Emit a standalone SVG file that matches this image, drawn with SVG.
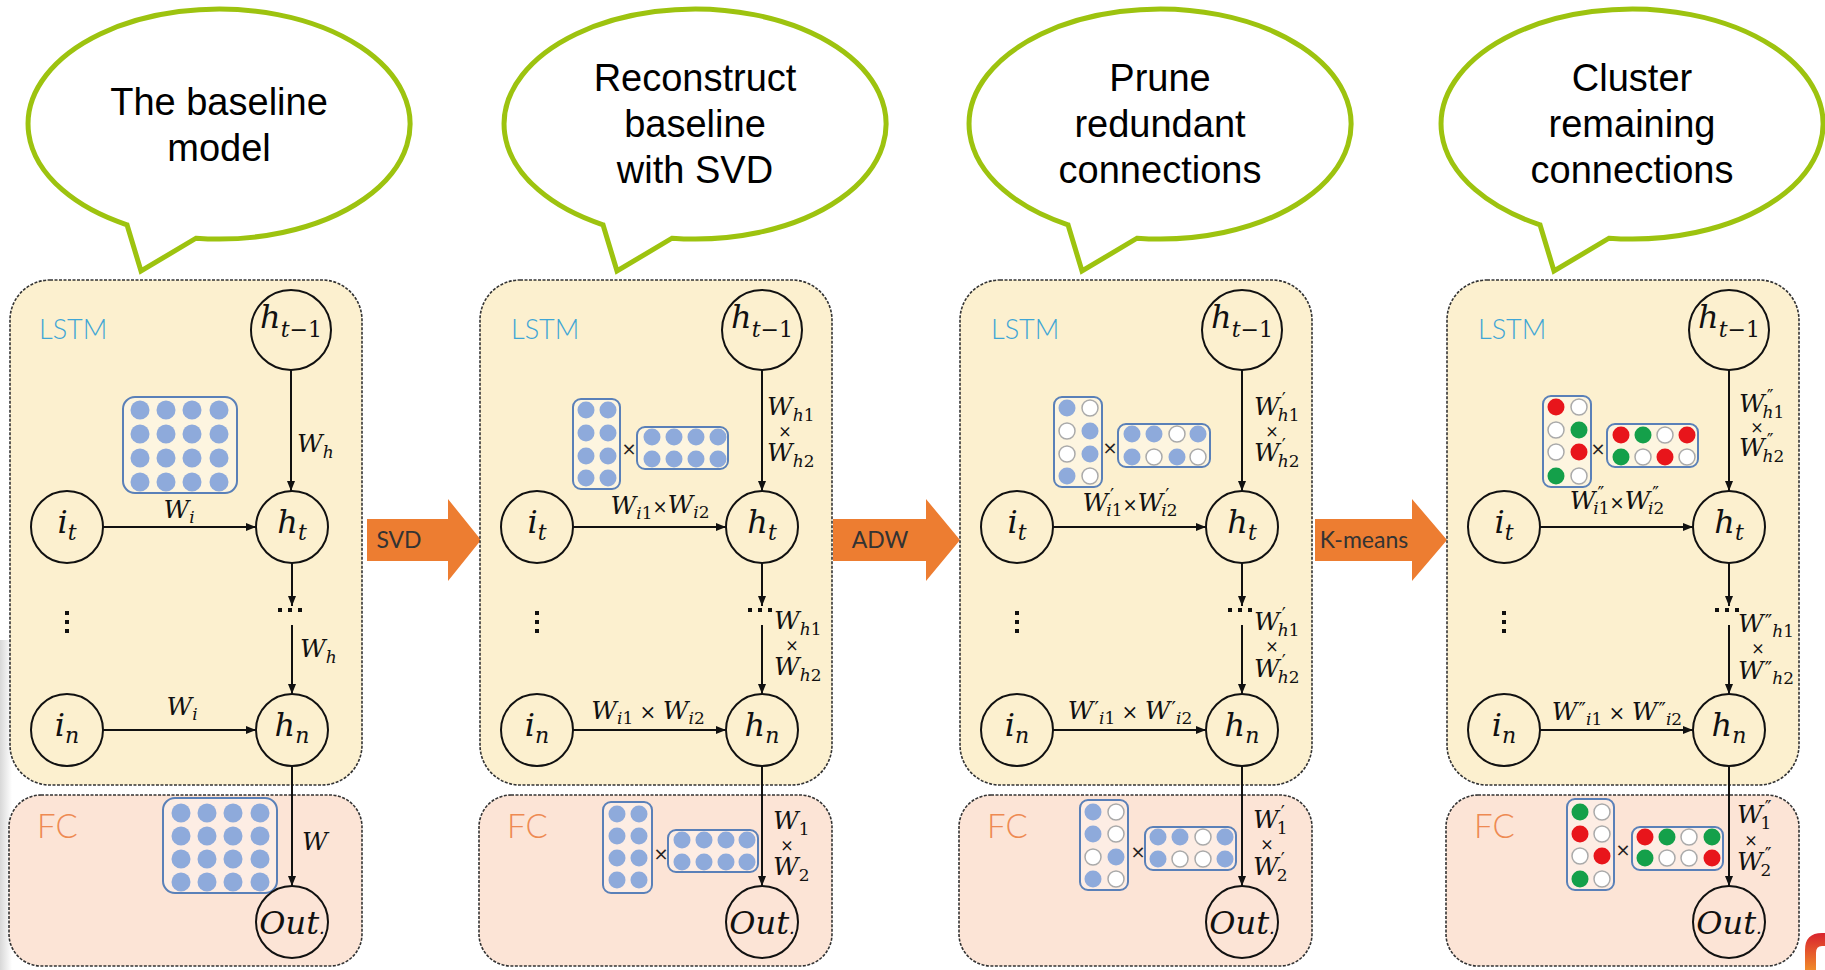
<svg xmlns="http://www.w3.org/2000/svg" width="1825" height="970" viewBox="0 0 1825 970">
<style>
  .bub{fill:#fff;stroke:#9dc30f;stroke-width:5;stroke-linejoin:miter}
  .btxt{font-family:"Liberation Sans",Arial,sans-serif;font-size:38px;text-anchor:middle;fill:#000}
  .lstm{fill:#fcf0cf;stroke:#333;stroke-width:1.6;stroke-dasharray:3 1.5}
  .fcb{fill:#fce4d6;stroke:#333;stroke-width:1.6;stroke-dasharray:3 1.5}
  .tag{font-family:Lato,"Liberation Sans",sans-serif;font-weight:300}
  .lt{fill:#3fa6d6;font-size:27px}
  .ft{fill:#ee8a52;font-size:33px}
  .node{fill:none;stroke:#111;stroke-width:2}
  .edge{fill:none;stroke:#111;stroke-width:2;marker-end:url(#ah)}
  .m{font-family:"DejaVu Serif",serif;font-style:italic;fill:#111;font-size:25px}
  .nt{font-family:"DejaVu Serif",serif;font-style:italic;fill:#111;font-size:32px;text-anchor:middle}
  .x{font-family:"DejaVu Sans",sans-serif;font-style:normal;font-size:18px;fill:#222;text-anchor:middle}
  .mat{fill:#fff;fill-opacity:.35;stroke:#5a80b8;stroke-width:2}
  .b{fill:#8eaadb}
  .r{fill:#e8151b}
  .g{fill:#14a04a}
  .o{fill:#fff;stroke:#aaa;stroke-width:1.5}
  .arr{fill:#ed7d31}
  .at{font-family:Lato,"Liberation Sans",sans-serif;font-size:23px;fill:#333;text-anchor:middle}
  .dot{fill:#111}
</style>
<defs>
  <marker id="ah" markerWidth="10" markerHeight="8" refX="10" refY="4" orient="auto" markerUnits="userSpaceOnUse">
    <path d="M0,0 L10,4 L0,8 z" fill="#111"/>
  </marker>
  <linearGradient id="shade" x1="0" y1="0" x2="1" y2="0">
    <stop offset="0" stop-color="#d8d8d8"/>
    <stop offset="1" stop-color="#d8d8d8" stop-opacity="0"/>
  </linearGradient>
  <linearGradient id="logo" x1="0" y1="0" x2="0" y2="1">
    <stop offset="0" stop-color="#d9232e"/>
    <stop offset="1" stop-color="#f08a2a"/>
  </linearGradient>
</defs>

<!-- soft page shading at the left edge -->
<rect x="0" y="640" width="12" height="330" fill="url(#shade)"/>

<!-- speech bubbles -->
<g id="bubble-1">
  <path class="bub" d="M127,224.8 L141,271 L196,238.2 A191 115 0 1 0 127,224.8 Z"/>
  <text class="btxt"><tspan x="219" y="115">The baseline</tspan><tspan x="219" y="161">model</tspan></text>
</g>
<g id="bubble-2">
  <path class="bub" d="M603,224.8 L617,271 L672,238.2 A191 115 0 1 0 603,224.8 Z"/>
  <text class="btxt"><tspan x="695" y="91">Reconstruct</tspan><tspan x="695" y="137">baseline</tspan><tspan x="695" y="183">with SVD</tspan></text>
</g>
<g id="bubble-3">
  <path class="bub" d="M1068,224.8 L1082,271 L1137,238.2 A191 115 0 1 0 1068,224.8 Z"/>
  <text class="btxt"><tspan x="1160" y="91">Prune</tspan><tspan x="1160" y="137">redundant</tspan><tspan x="1160" y="183">connections</tspan></text>
</g>
<g id="bubble-4">
  <path class="bub" d="M1540,224.8 L1554,271 L1609,238.2 A191 115 0 1 0 1540,224.8 Z"/>
  <text class="btxt"><tspan x="1632" y="91">Cluster</tspan><tspan x="1632" y="137">remaining</tspan><tspan x="1632" y="183">connections</tspan></text>
</g>

<!-- step arrows -->
<g id="step-svd">
  <polygon class="arr" points="367,519 448,519 448,499 481,540 448,581 448,561 367,561"/>
  <text class="at" x="399" y="548">SVD</text>
</g>
<g id="step-adw">
  <polygon class="arr" points="833,519 926,519 926,499 960,540 926,581 926,561 833,561"/>
  <text class="at" x="880" y="548">ADW</text>
</g>
<g id="step-kmeans">
  <polygon class="arr" points="1315,519 1412,519 1412,499 1447,540 1412,581 1412,561 1315,561"/>
  <text class="at" x="1364" y="548">K-means</text>
</g>

<!-- ===== Panel 1: baseline model ===== -->
<g id="panel-1" transform="translate(10,0)">
  <g id="p1-blocks">
    <rect class="lstm" x="0" y="280" width="352" height="505" rx="40"/>
    <rect class="fcb" x="-1" y="795" width="353" height="171" rx="32"/>
    <text class="tag lt" x="29" y="339">LSTM</text>
    <text class="tag ft" x="27" y="838">FC</text>
  </g>
  <g id="p1-wlstm">
    <rect class="mat" x="113" y="397" width="114" height="96" rx="12"/>
    <g class="b">
      <circle cx="130" cy="410" r="9.5"/><circle cx="156" cy="410" r="9.5"/><circle cx="182" cy="410" r="9.5"/><circle cx="209" cy="410" r="9.5"/>
      <circle cx="130" cy="434" r="9.5"/><circle cx="156" cy="434" r="9.5"/><circle cx="182" cy="434" r="9.5"/><circle cx="209" cy="434" r="9.5"/>
      <circle cx="130" cy="458" r="9.5"/><circle cx="156" cy="458" r="9.5"/><circle cx="182" cy="458" r="9.5"/><circle cx="209" cy="458" r="9.5"/>
      <circle cx="130" cy="482" r="9.5"/><circle cx="156" cy="482" r="9.5"/><circle cx="182" cy="482" r="9.5"/><circle cx="209" cy="482" r="9.5"/>
    </g>
  </g>
  <g id="p1-wfc">
    <rect class="mat" x="153" y="798" width="114" height="95" rx="12"/>
    <g class="b">
      <circle cx="171" cy="813" r="9.5"/><circle cx="197" cy="813" r="9.5"/><circle cx="223" cy="813" r="9.5"/><circle cx="250" cy="813" r="9.5"/>
      <circle cx="171" cy="836" r="9.5"/><circle cx="197" cy="836" r="9.5"/><circle cx="223" cy="836" r="9.5"/><circle cx="250" cy="836" r="9.5"/>
      <circle cx="171" cy="859" r="9.5"/><circle cx="197" cy="859" r="9.5"/><circle cx="223" cy="859" r="9.5"/><circle cx="250" cy="859" r="9.5"/>
      <circle cx="171" cy="882" r="9.5"/><circle cx="197" cy="882" r="9.5"/><circle cx="223" cy="882" r="9.5"/><circle cx="250" cy="882" r="9.5"/>
    </g>
  </g>
  <g id="p1-connectors">
    <path class="edge" d="M281,370 V491"/>
    <path class="edge" d="M93,527 H246"/>
    <path class="edge" d="M282,563 V606"/>
    <path class="edge" d="M282,625 V694"/>
    <path class="edge" d="M93,730 H246"/>
    <path class="edge" d="M282,766 V886"/>
    <rect class="dot" x="268" y="608" width="4" height="4"/><rect class="dot" x="278" y="608" width="4" height="4"/><rect class="dot" x="288" y="608" width="4" height="4"/>
    <rect class="dot" x="55" y="611" width="4" height="4"/><rect class="dot" x="55" y="620" width="4" height="4"/><rect class="dot" x="55" y="629" width="4" height="4"/>
    <text class="m" x="287" y="452">W<tspan font-size="17" dy="6">h</tspan></text>
    <text class="m" x="169" y="518" text-anchor="middle">W<tspan font-size="17" dy="5">i</tspan></text>
    <text class="m" x="290" y="657">W<tspan font-size="17" dy="6">h</tspan></text>
    <text class="m" x="172" y="715" text-anchor="middle">W<tspan font-size="17" dy="5">i</tspan></text>
    <text class="m" x="292" y="850">W</text>
  </g>
  <g id="p1-hprev"><circle class="node" cx="281" cy="330" r="40"/><text class="nt" x="281" y="328">h<tspan font-size="22" dy="9">t−<tspan font-style="normal">1</tspan></tspan></text></g>
  <g id="p1-ht"><circle class="node" cx="282" cy="527" r="36"/><text class="nt" x="282" y="533">h<tspan font-size="22" dy="7">t</tspan></text></g>
  <g id="p1-it"><circle class="node" cx="57" cy="527" r="36"/><text class="nt" x="57" y="533">i<tspan font-size="22" dy="7">t</tspan></text></g>
  <g id="p1-hn"><circle class="node" cx="282" cy="730" r="36"/><text class="nt" x="282" y="736">h<tspan font-size="22" dy="7">n</tspan></text></g>
  <g id="p1-in"><circle class="node" cx="57" cy="730" r="36"/><text class="nt" x="57" y="736">i<tspan font-size="22" dy="7">n</tspan></text></g>
  <g id="p1-out"><circle class="node" cx="282" cy="922" r="36"/><text class="nt" x="282" y="934" font-size="28">Out<tspan font-size="18">.</tspan></text></g>
</g>

<!-- ===== Panel 2: SVD factorised ===== -->
<g id="panel-2" transform="translate(480,0)">
  <g id="p2-blocks">
    <rect class="lstm" x="0" y="280" width="352" height="505" rx="40"/>
    <rect class="fcb" x="-1" y="795" width="353" height="171" rx="32"/>
    <text class="tag lt" x="31" y="339">LSTM</text>
    <text class="tag ft" x="27" y="838">FC</text>
  </g>
  <g id="p2-wlstm">
    <rect class="mat" x="93" y="399" width="47" height="90" rx="8"/>
    <g class="b">
      <circle cx="106" cy="410" r="8.5"/><circle cx="128" cy="410" r="8.5"/>
      <circle cx="106" cy="433" r="8.5"/><circle cx="128" cy="433" r="8.5"/>
      <circle cx="106" cy="456" r="8.5"/><circle cx="128" cy="456" r="8.5"/>
      <circle cx="106" cy="478" r="8.5"/><circle cx="128" cy="478" r="8.5"/>
    </g>
    <text class="x" x="149" y="455">×</text>
    <rect class="mat" x="157" y="427" width="91" height="42" rx="8"/>
    <g class="b">
      <circle cx="172" cy="437" r="8.5"/><circle cx="194" cy="437" r="8.5"/><circle cx="216" cy="437" r="8.5"/><circle cx="238" cy="437" r="8.5"/>
      <circle cx="172" cy="459" r="8.5"/><circle cx="194" cy="459" r="8.5"/><circle cx="216" cy="459" r="8.5"/><circle cx="238" cy="459" r="8.5"/>
    </g>
  </g>
  <g id="p2-wfc">
    <rect class="mat" x="123" y="802" width="49" height="91" rx="8"/>
    <g class="b">
      <circle cx="137" cy="814" r="8.5"/><circle cx="159" cy="814" r="8.5"/>
      <circle cx="137" cy="836" r="8.5"/><circle cx="159" cy="836" r="8.5"/>
      <circle cx="137" cy="858" r="8.5"/><circle cx="159" cy="858" r="8.5"/>
      <circle cx="137" cy="880" r="8.5"/><circle cx="159" cy="880" r="8.5"/>
    </g>
    <text class="x" x="181" y="860">×</text>
    <rect class="mat" x="188" y="830" width="90" height="42" rx="8"/>
    <g class="b">
      <circle cx="202" cy="840" r="8.5"/><circle cx="224" cy="840" r="8.5"/><circle cx="246" cy="840" r="8.5"/><circle cx="267" cy="840" r="8.5"/>
      <circle cx="202" cy="862" r="8.5"/><circle cx="224" cy="862" r="8.5"/><circle cx="246" cy="862" r="8.5"/><circle cx="267" cy="862" r="8.5"/>
    </g>
  </g>
  <g id="p2-connectors">
    <path class="edge" d="M282,370 V491"/>
    <path class="edge" d="M93,527 H246"/>
    <path class="edge" d="M282,563 V606"/>
    <path class="edge" d="M282,625 V694"/>
    <path class="edge" d="M93,730 H246"/>
    <path class="edge" d="M282,766 V886"/>
    <rect class="dot" x="268" y="608" width="4" height="4"/><rect class="dot" x="278" y="608" width="4" height="4"/><rect class="dot" x="288" y="608" width="4" height="4"/>
    <rect class="dot" x="55" y="611" width="4" height="4"/><rect class="dot" x="55" y="620" width="4" height="4"/><rect class="dot" x="55" y="629" width="4" height="4"/>
    <text class="m"><tspan x="287" y="415">W</tspan><tspan font-size="17" dy="6">h<tspan font-style="normal">1</tspan></tspan><tspan x="305" y="437" font-size="16" font-style="normal" text-anchor="middle">×</tspan><tspan x="287" y="461">W</tspan><tspan font-size="17" dy="6">h<tspan font-style="normal">2</tspan></tspan></text>
    <text class="m" x="180" y="514" text-anchor="middle">W<tspan font-size="17" dy="5">i<tspan font-style="normal">1</tspan></tspan><tspan font-size="18" font-style="normal" dy="-6">×</tspan>W<tspan font-size="17" dy="5">i<tspan font-style="normal">2</tspan></tspan></text>
    <text class="m"><tspan x="294" y="629">W</tspan><tspan font-size="17" dy="6">h<tspan font-style="normal">1</tspan></tspan><tspan x="312" y="651" font-size="16" font-style="normal" text-anchor="middle">×</tspan><tspan x="294" y="675">W</tspan><tspan font-size="17" dy="6">h<tspan font-style="normal">2</tspan></tspan></text>
    <text class="m" x="168" y="719" text-anchor="middle">W<tspan font-size="17" dy="5">i<tspan font-style="normal">1</tspan></tspan><tspan font-size="20" font-style="normal" dy="-5"> × </tspan>W<tspan font-size="17" dy="5">i<tspan font-style="normal">2</tspan></tspan></text>
    <text class="m"><tspan x="293" y="829">W</tspan><tspan font-size="17" font-style="normal" dy="6">1</tspan><tspan x="307" y="851" font-size="16" font-style="normal" text-anchor="middle">×</tspan><tspan x="293" y="875">W</tspan><tspan font-size="17" font-style="normal" dy="6">2</tspan></text>
  </g>
  <g id="p2-hprev"><circle class="node" cx="282" cy="330" r="40"/><text class="nt" x="282" y="328">h<tspan font-size="22" dy="9">t−<tspan font-style="normal">1</tspan></tspan></text></g>
  <g id="p2-ht"><circle class="node" cx="282" cy="527" r="36"/><text class="nt" x="282" y="533">h<tspan font-size="22" dy="7">t</tspan></text></g>
  <g id="p2-it"><circle class="node" cx="57" cy="527" r="36"/><text class="nt" x="57" y="533">i<tspan font-size="22" dy="7">t</tspan></text></g>
  <g id="p2-hn"><circle class="node" cx="282" cy="730" r="36"/><text class="nt" x="282" y="736">h<tspan font-size="22" dy="7">n</tspan></text></g>
  <g id="p2-in"><circle class="node" cx="57" cy="730" r="36"/><text class="nt" x="57" y="736">i<tspan font-size="22" dy="7">n</tspan></text></g>
  <g id="p2-out"><circle class="node" cx="282" cy="922" r="36"/><text class="nt" x="282" y="934" font-size="28">Out<tspan font-size="18">.</tspan></text></g>
</g>

<!-- ===== Panel 3: pruned ===== -->
<g id="panel-3" transform="translate(960,0)">
  <g id="p3-blocks">
    <rect class="lstm" x="0" y="280" width="352" height="505" rx="40"/>
    <rect class="fcb" x="-1" y="795" width="353" height="171" rx="32"/>
    <text class="tag lt" x="31" y="339">LSTM</text>
    <text class="tag ft" x="27" y="838">FC</text>
  </g>
  <g id="p3-wlstm">
    <rect class="mat" x="94" y="397" width="48" height="90" rx="8"/>
    <circle class="b" cx="107" cy="408" r="8.5"/><circle class="o" cx="130" cy="408" r="8"/>
    <circle class="o" cx="107" cy="431" r="8"/><circle class="b" cx="130" cy="431" r="8.5"/>
    <circle class="o" cx="107" cy="454" r="8"/><circle class="b" cx="130" cy="454" r="8.5"/>
    <circle class="b" cx="107" cy="476" r="8.5"/><circle class="o" cx="130" cy="476" r="8"/>
    <text class="x" x="150" y="454">×</text>
    <rect class="mat" x="158" y="424" width="92" height="43" rx="8"/>
    <circle class="b" cx="172" cy="434" r="8.5"/><circle class="b" cx="194" cy="434" r="8.5"/><circle class="o" cx="217" cy="434" r="8"/><circle class="b" cx="238" cy="434" r="8.5"/>
    <circle class="b" cx="172" cy="457" r="8.5"/><circle class="o" cx="194" cy="457" r="8"/><circle class="b" cx="217" cy="457" r="8.5"/><circle class="o" cx="238" cy="457" r="8"/>
  </g>
  <g id="p3-wfc">
    <rect class="mat" x="120" y="800" width="48" height="90" rx="8"/>
    <circle class="b" cx="133" cy="812" r="8.5"/><circle class="o" cx="156" cy="812" r="8"/>
    <circle class="b" cx="133" cy="834" r="8.5"/><circle class="o" cx="156" cy="834" r="8"/>
    <circle class="o" cx="133" cy="857" r="8"/><circle class="b" cx="156" cy="857" r="8.5"/>
    <circle class="b" cx="133" cy="879" r="8.5"/><circle class="o" cx="156" cy="879" r="8"/>
    <text class="x" x="178" y="858">×</text>
    <rect class="mat" x="185" y="827" width="91" height="43" rx="8"/>
    <circle class="b" cx="198" cy="837" r="8.5"/><circle class="b" cx="220" cy="837" r="8.5"/><circle class="o" cx="243" cy="837" r="8"/><circle class="b" cx="265" cy="837" r="8.5"/>
    <circle class="b" cx="198" cy="859" r="8.5"/><circle class="o" cx="220" cy="859" r="8"/><circle class="o" cx="243" cy="859" r="8"/><circle class="b" cx="265" cy="859" r="8.5"/>
  </g>
  <g id="p3-connectors">
    <path class="edge" d="M282,370 V491"/>
    <path class="edge" d="M93,527 H246"/>
    <path class="edge" d="M282,563 V606"/>
    <path class="edge" d="M282,625 V694"/>
    <path class="edge" d="M93,730 H246"/>
    <path class="edge" d="M282,766 V886"/>
    <rect class="dot" x="268" y="608" width="4" height="4"/><rect class="dot" x="278" y="608" width="4" height="4"/><rect class="dot" x="288" y="608" width="4" height="4"/>
    <rect class="dot" x="55" y="611" width="4" height="4"/><rect class="dot" x="55" y="620" width="4" height="4"/><rect class="dot" x="55" y="629" width="4" height="4"/>
    <text class="m"><tspan x="294" y="415">W</tspan><tspan font-size="18" font-style="normal" dx="2" dy="-9">′</tspan><tspan font-size="17" dx="-8" dy="15">h<tspan font-style="normal">1</tspan></tspan><tspan x="312" y="437" font-size="16" font-style="normal" text-anchor="middle">×</tspan><tspan x="294" y="461">W</tspan><tspan font-size="18" font-style="normal" dx="2" dy="-9">′</tspan><tspan font-size="17" dx="-8" dy="15">h<tspan font-style="normal">2</tspan></tspan></text>
    <text class="m" x="170" y="511" text-anchor="middle">W<tspan font-size="18" font-style="normal" dx="2" dy="-9">′</tspan><tspan font-size="17" dx="-8" dy="14">i<tspan font-style="normal">1</tspan></tspan><tspan font-size="18" font-style="normal" dy="-5">×</tspan>W<tspan font-size="18" font-style="normal" dx="2" dy="-9">′</tspan><tspan font-size="17" dx="-8" dy="14">i<tspan font-style="normal">2</tspan></tspan></text>
    <text class="m"><tspan x="294" y="630">W</tspan><tspan font-size="18" font-style="normal" dx="2" dy="-9">′</tspan><tspan font-size="17" dx="-8" dy="15">h<tspan font-style="normal">1</tspan></tspan><tspan x="312" y="652" font-size="16" font-style="normal" text-anchor="middle">×</tspan><tspan x="294" y="677">W</tspan><tspan font-size="18" font-style="normal" dx="2" dy="-9">′</tspan><tspan font-size="17" dx="-8" dy="15">h<tspan font-style="normal">2</tspan></tspan></text>
    <text class="m" x="170" y="719" text-anchor="middle">W<tspan font-size="20" font-style="normal" dx="1" dy="-3">′</tspan><tspan font-size="17" dy="8">i<tspan font-style="normal">1</tspan></tspan><tspan font-size="20" font-style="normal" dy="-5"> × </tspan>W<tspan font-size="20" font-style="normal" dx="1" dy="-3">′</tspan><tspan font-size="17" dy="8">i<tspan font-style="normal">2</tspan></tspan></text>
    <text class="m"><tspan x="293" y="828">W</tspan><tspan font-size="18" font-style="normal" dx="2" dy="-9">′</tspan><tspan font-size="17" font-style="normal" dx="-8" dy="15">1</tspan><tspan x="307" y="850" font-size="16" font-style="normal" text-anchor="middle">×</tspan><tspan x="293" y="875">W</tspan><tspan font-size="18" font-style="normal" dx="2" dy="-9">′</tspan><tspan font-size="17" font-style="normal" dx="-8" dy="15">2</tspan></text>
  </g>
  <g id="p3-hprev"><circle class="node" cx="282" cy="330" r="40"/><text class="nt" x="282" y="328">h<tspan font-size="22" dy="9">t−<tspan font-style="normal">1</tspan></tspan></text></g>
  <g id="p3-ht"><circle class="node" cx="282" cy="527" r="36"/><text class="nt" x="282" y="533">h<tspan font-size="22" dy="7">t</tspan></text></g>
  <g id="p3-it"><circle class="node" cx="57" cy="527" r="36"/><text class="nt" x="57" y="533">i<tspan font-size="22" dy="7">t</tspan></text></g>
  <g id="p3-hn"><circle class="node" cx="282" cy="730" r="36"/><text class="nt" x="282" y="736">h<tspan font-size="22" dy="7">n</tspan></text></g>
  <g id="p3-in"><circle class="node" cx="57" cy="730" r="36"/><text class="nt" x="57" y="736">i<tspan font-size="22" dy="7">n</tspan></text></g>
  <g id="p3-out"><circle class="node" cx="282" cy="922" r="36"/><text class="nt" x="282" y="934" font-size="28">Out<tspan font-size="18">.</tspan></text></g>
</g>

<!-- ===== Panel 4: clustered ===== -->
<g id="panel-4" transform="translate(1447,0)">
  <g id="p4-blocks">
    <rect class="lstm" x="0" y="280" width="352" height="505" rx="40"/>
    <rect class="fcb" x="-1" y="795" width="353" height="171" rx="32"/>
    <text class="tag lt" x="31" y="339">LSTM</text>
    <text class="tag ft" x="27" y="838">FC</text>
  </g>
  <g id="p4-wlstm">
    <rect class="mat" x="96" y="396" width="48" height="91" rx="8"/>
    <circle class="r" cx="109" cy="407" r="8.5"/><circle class="o" cx="132" cy="407" r="8"/>
    <circle class="o" cx="109" cy="430" r="8"/><circle class="g" cx="132" cy="430" r="8.5"/>
    <circle class="o" cx="109" cy="452" r="8"/><circle class="r" cx="132" cy="452" r="8.5"/>
    <circle class="g" cx="109" cy="476" r="8.5"/><circle class="o" cx="132" cy="476" r="8"/>
    <text class="x" x="151" y="455">×</text>
    <rect class="mat" x="160" y="424" width="91" height="43" rx="8"/>
    <circle class="r" cx="174" cy="435" r="8.5"/><circle class="g" cx="196" cy="435" r="8.5"/><circle class="o" cx="218" cy="435" r="8"/><circle class="r" cx="240" cy="435" r="8.5"/>
    <circle class="g" cx="174" cy="457" r="8.5"/><circle class="o" cx="196" cy="457" r="8"/><circle class="r" cx="218" cy="457" r="8.5"/><circle class="o" cx="240" cy="457" r="8"/>
  </g>
  <g id="p4-wfc">
    <rect class="mat" x="120" y="799" width="47" height="91" rx="8"/>
    <circle class="g" cx="133" cy="812" r="8.5"/><circle class="o" cx="155" cy="812" r="8"/>
    <circle class="r" cx="133" cy="834" r="8.5"/><circle class="o" cx="155" cy="834" r="8"/>
    <circle class="o" cx="133" cy="856" r="8"/><circle class="r" cx="155" cy="856" r="8.5"/>
    <circle class="g" cx="133" cy="879" r="8.5"/><circle class="o" cx="155" cy="879" r="8"/>
    <text class="x" x="176" y="856">×</text>
    <rect class="mat" x="185" y="827" width="91" height="43" rx="8"/>
    <circle class="r" cx="198" cy="837" r="8.5"/><circle class="g" cx="220" cy="837" r="8.5"/><circle class="o" cx="242" cy="837" r="8"/><circle class="g" cx="265" cy="837" r="8.5"/>
    <circle class="g" cx="198" cy="858" r="8.5"/><circle class="o" cx="220" cy="858" r="8"/><circle class="o" cx="242" cy="858" r="8"/><circle class="r" cx="265" cy="858" r="8.5"/>
  </g>
  <g id="p4-connectors">
    <path class="edge" d="M282,370 V491"/>
    <path class="edge" d="M93,527 H246"/>
    <path class="edge" d="M282,563 V606"/>
    <path class="edge" d="M282,625 V694"/>
    <path class="edge" d="M93,730 H246"/>
    <path class="edge" d="M282,766 V886"/>
    <rect class="dot" x="268" y="608" width="4" height="4"/><rect class="dot" x="278" y="608" width="4" height="4"/><rect class="dot" x="288" y="608" width="4" height="4"/>
    <rect class="dot" x="55" y="611" width="4" height="4"/><rect class="dot" x="55" y="620" width="4" height="4"/><rect class="dot" x="55" y="629" width="4" height="4"/>
    <text class="m"><tspan x="292" y="412">W</tspan><tspan font-size="18" font-style="normal" dx="2" dy="-9">″</tspan><tspan font-size="17" dx="-11" dy="15">h<tspan font-style="normal">1</tspan></tspan><tspan x="310" y="433" font-size="16" font-style="normal" text-anchor="middle">×</tspan><tspan x="292" y="456">W</tspan><tspan font-size="18" font-style="normal" dx="2" dy="-9">″</tspan><tspan font-size="17" dx="-11" dy="15">h<tspan font-style="normal">2</tspan></tspan></text>
    <text class="m" x="170" y="509" text-anchor="middle">W<tspan font-size="18" font-style="normal" dx="2" dy="-9">″</tspan><tspan font-size="17" dx="-11" dy="14">i<tspan font-style="normal">1</tspan></tspan><tspan font-size="18" font-style="normal" dy="-5">×</tspan>W<tspan font-size="18" font-style="normal" dx="2" dy="-9">″</tspan><tspan font-size="17" dx="-11" dy="14">i<tspan font-style="normal">2</tspan></tspan></text>
    <text class="m"><tspan x="291" y="632">W</tspan><tspan font-size="20" font-style="normal" dx="1" dy="-3">″</tspan><tspan font-size="17" dy="8">h<tspan font-style="normal">1</tspan></tspan><tspan x="311" y="654" font-size="16" font-style="normal" text-anchor="middle">×</tspan><tspan x="291" y="679">W</tspan><tspan font-size="20" font-style="normal" dx="1" dy="-3">″</tspan><tspan font-size="17" dy="8">h<tspan font-style="normal">2</tspan></tspan></text>
    <text class="m" x="170" y="720" text-anchor="middle">W<tspan font-size="20" font-style="normal" dx="1" dy="-3">″</tspan><tspan font-size="17" dy="8">i<tspan font-style="normal">1</tspan></tspan><tspan font-size="20" font-style="normal" dy="-5"> × </tspan>W<tspan font-size="20" font-style="normal" dx="1" dy="-3">″</tspan><tspan font-size="17" dy="8">i<tspan font-style="normal">2</tspan></tspan></text>
    <text class="m"><tspan x="290" y="823">W</tspan><tspan font-size="18" font-style="normal" dx="2" dy="-9">″</tspan><tspan font-size="17" font-style="normal" dx="-11" dy="15">1</tspan><tspan x="304" y="846" font-size="16" font-style="normal" text-anchor="middle">×</tspan><tspan x="290" y="870">W</tspan><tspan font-size="18" font-style="normal" dx="2" dy="-9">″</tspan><tspan font-size="17" font-style="normal" dx="-11" dy="15">2</tspan></text>
  </g>
  <g id="p4-hprev"><circle class="node" cx="282" cy="330" r="40"/><text class="nt" x="282" y="328">h<tspan font-size="22" dy="9">t−<tspan font-style="normal">1</tspan></tspan></text></g>
  <g id="p4-ht"><circle class="node" cx="282" cy="527" r="36"/><text class="nt" x="282" y="533">h<tspan font-size="22" dy="7">t</tspan></text></g>
  <g id="p4-it"><circle class="node" cx="57" cy="527" r="36"/><text class="nt" x="57" y="533">i<tspan font-size="22" dy="7">t</tspan></text></g>
  <g id="p4-hn"><circle class="node" cx="282" cy="730" r="36"/><text class="nt" x="282" y="736">h<tspan font-size="22" dy="7">n</tspan></text></g>
  <g id="p4-in"><circle class="node" cx="57" cy="730" r="36"/><text class="nt" x="57" y="736">i<tspan font-size="22" dy="7">n</tspan></text></g>
  <g id="p4-out"><circle class="node" cx="282" cy="922" r="36"/><text class="nt" x="282" y="934" font-size="28">Out<tspan font-size="18">.</tspan></text></g>
</g>

<!-- corner logo fragment -->
<path d="M1805,970 L1805,950 Q1805,933 1822,933 L1825,933 L1825,946 L1822,946 Q1816,946 1816,953 L1816,970 Z" fill="url(#logo)"/>
</svg>
